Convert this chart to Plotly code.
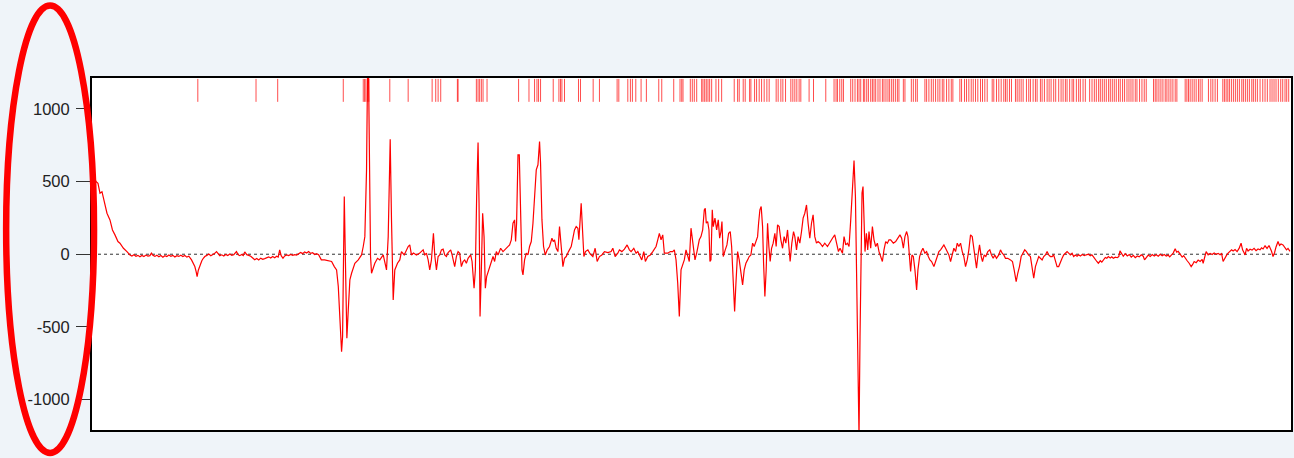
import plotly.graph_objects as go

# Recorded signal: (time, amplitude) samples
signal = [
    (2, 530), (4, 500), (6, 488), (8, 420), (10, 430), (12.5, 350), (15, 282), (18, 236),
    (20.5, 167), (23, 133), (26, 87), (28, 76), (31.5, 41), (35, 18),
    (38, -5), (40, -12), (42, -4), (44, -14), (46, -8), (48, -18), (50, -9), (52, -16), (54, -6),
    (56, -13), (58, -10), (59.5, 7), (61, -8), (63, -15), (65, -7), (67, -17), (69, -9),
    (71, -20), (73, -10), (75, -16), (77, -6), (79, -14), (81, -8), (83, -19), (85, -10),
    (87, -15), (89, -7), (91, -16), (93, -9), (95, -20), (97, -14),
    (99.7, -39), (101.5, -60), (103, -85), (104.3, -120), (105.3, -154), (106.5, -110),
    (108, -78), (110, -45), (111.5, -28), (113, -16),
    (115, -8), (117, 2), (119, -10), (121, -3), (123, 6), (124.7, 18), (126.5, -2), (128, -10),
    (130, -4), (132, -12), (134, -2), (136, -9), (138, 1), (140, -8), (142, -3), (144.7, 18),
    (146.5, -4), (148, -10), (150, -2), (151.5, -9), (153, 16), (155, -3), (157, -8), (159, -14),
    (161, -26), (163, -38), (165, -30), (167, -40), (169, -27), (171, -35), (173, -30),
    (175, -24), (177, -18), (179, -26), (181, -16), (183, -24), (185, -14), (186.5, -20),
    (188, 30), (189.5, -10), (191.3, -28), (193, -12), (195, -5), (197, -9), (199, -2),
    (201, -8), (203, -3), (205, -6), (207, 2), (209, 12), (211, 4), (213, 16), (215, 8),
    (217, 18), (219, 6), (221, 10), (223, -2), (225, 4), (227, -4), (229.7, -39),
    (233, -39), (236, -42), (240, -50),
    (242.7, -85), (245, -108), (246.7, -222), (248.3, -452), (250, -670), (251, -566),
    (252.7, 397), (254, -108), (255.3, -578), (256.7, -383), (258.3, -177), (260, -131),
    (263.3, -62), (266.7, -39), (270, -5), (271.7, 53), (273.3, 121), (275, 580), (276, 1250),
    (277, 1250), (277.7, 580), (279, -16), (280, -131), (281.7, -96), (283.3, -62), (286, -28),
    (288.3, -39), (291.7, -5), (293.3, -62), (295, -108), (296.7, 121), (298.7, 791), (300, 236),
    (301.7, -314), (303.3, -108), (306, -62), (308.3, -39), (310, 18), (312.7, -5), (315, 30),
    (316.7, 53), (318.3, 64), (320, -5), (322, 8), (325, -5), (328, 6), (330, 18), (331.7, 30),
    (333.3, -5), (335, 7), (336.7, -39), (338.3, -108), (340, -39), (342, 144), (343.3, -5),
    (345, -108), (346.7, -16), (348.3, -5), (350, 30), (351.7, 35), (353.3, -5), (355, -16),
    (356.7, 11), (359.3, 30), (360.7, -5), (363.3, -85), (365, -16), (366.7, 18), (368.3, 7),
    (370, -85), (371.7, -50), (373.3, -39), (375, -62), (376.7, -28), (379.3, -5), (380.7, -50),
    (382.7, -234), (384, -108), (385.3, 397), (386.7, 768), (387.7, 351), (388.7, -429),
    (390, -108), (391.3, 282), (392.7, 121), (394, -234), (395.3, -154), (397.3, -108),
    (400, -39), (401.7, -16), (403.3, -50), (405, 18), (406.7, -5), (409.3, 41), (411.7, 18),
    (415, 41), (418.3, 64), (420, 99), (421.7, 213), (423.3, 236), (424.3, 87), (425.3, 213),
    (426.7, 683), (428, 683), (429.3, 351), (430.7, -108), (431.7, -142), (433.3, -39), (435, 7),
    (436.7, -5), (438.3, 53), (440, 87), (441.7, 213), (443.3, 443), (445, 580), (446.7, 615),
    (448.3, 775), (449.3, 626), (450.7, 236), (452.3, 53), (454, -5), (456, 30), (458.3, 53),
    (460.7, 110), (462, 87), (463.3, 99), (465, 41), (466.7, 18), (468.3, 190), (470, 53),
    (471.7, -85), (473.3, -28), (475, -16), (477.3, 18), (480, 53), (481.7, 110), (483.3, 167),
    (485, 190), (486.7, 179), (487.7, 99), (489, 305), (490, 351), (491, 213), (492.7, -16),
    (494.3, 18), (496.7, 30), (499, 2), (501.7, -16), (504, 41), (506, -50), (508.3, -16),
    (510.7, -5), (513.3, 18), (516.7, 11), (520, 18), (521.7, 41), (524, -16), (526.7, 7),
    (528.3, 30), (530.7, 18), (533.3, 35), (536, 64), (538.3, 30), (540, 18), (542.7, 41),
    (545, 7), (546.7, 18), (548.7, -16), (550.7, -39), (552.7, 18), (554.3, -50), (556.7, -16),
    (559.3, -5), (561.7, 18), (565, 53), (566.7, 99), (568.3, 144), (570, 99), (571.7, 133),
    (573.3, 7), (576.7, 7), (579.3, 18), (581.7, 18), (583.3, 30), (585, -39), (586.7, -200),
    (588.3, -429), (590, -108), (591.7, -62), (593.3, -39), (595, 30), (596.7, -5), (598.3, -50),
    (600, 179), (601.7, 99), (604, -39), (606, 18), (608.3, 99), (610, 121), (611.7, 167),
    (613.3, 305), (614.3, 316), (615.3, 213), (616.7, 225), (618, 167), (619, -50), (620, -39),
    (621.3, 305), (622.3, 190), (624, 248), (625.7, 167), (627.3, 236), (628.7, 110), (630, 156),
    (631, 225), (632.3, -16), (634.3, 30), (636, 64), (637.7, 144), (639.3, 156), (640.7, 53),
    (642, -108), (643.7, -394), (645, -200), (646.7, 18), (648.3, -39), (650, -131),
    (651.7, -211), (653.3, -108), (655, -62), (656.7, -39), (658.3, -16), (660, -5), (661.7, 76),
    (663.3, 53), (665, 87), (666.7, 121), (667.7, 213), (669, 305), (670.3, 328), (671.7, 190),
    (672.7, -62), (674, -291), (675.3, -108), (676.7, 213), (678, 53), (679.3, -50), (680.7, 41),
    (682.3, 76), (684, 144), (685.3, 53), (686.7, 202), (688.3, 190), (690, 99), (691.7, 41),
    (693.3, 121), (695, 76), (696.7, 167), (698.3, -16), (699.3, -50), (701, 76), (702.7, 156),
    (704, 121), (705.7, 30), (707.3, 121), (709, 76), (710.7, 156), (712.3, 248), (714, 282),
    (715.7, 339), (717.3, 213), (719, 110), (720.7, 213), (722.3, 271), (724, 121), (725.7, 76),
    (727.3, 87), (729.3, 76), (731.7, 53), (734, 76), (736.7, 53), (739.3, 87), (741.7, 110),
    (744, 133), (746, 76), (747.7, 18), (749.3, 41), (751.7, 7), (753.3, 121), (755, 64),
    (756.7, 76), (758.3, 53), (760, 236), (761.7, 420), (763.3, 644), (764.7, 397), (766, -108),
    (767.3, -796), (768.3, -1250), (769.3, -566), (770.3, 7), (771.3, 420), (772.3, 465),
    (773.3, 282), (774.3, 18), (775.7, 144), (777, 30), (778.3, 156), (780, 41), (781.7, 190),
    (783.3, 99), (785, 53), (786.7, 76), (788.3, 18), (790, -16), (791.7, -50), (793.3, 30),
    (795, 87), (796.7, 76), (798.3, 99), (800, 99), (802.7, 76), (805, 87), (807.3, 110),
    (809.3, 133), (811, 110), (812.7, 41), (814.3, 121), (816, 156), (817.3, 121), (818.7, -16),
    (820, -119), (821.3, -5), (822.7, -16), (824.3, -108), (826, -245), (827.3, -108),
    (829, -16), (830.7, 18), (832.3, 41), (834.3, 7), (836, 18), (837.7, -16), (839.3, -39),
    (841, -50), (843.3, -85), (845, -50), (846.7, -16), (848.3, 18), (850, 30), (851.7, 53),
    (853.3, 64), (855, 41), (856.7, 18), (858.3, -5), (860, -50), (861.7, 7), (863.3, 41),
    (865, 18), (866.7, 76), (868.3, 53), (870, 76), (871.7, 18), (873.3, -16), (875, -85),
    (876.7, -39), (878.3, 30), (880, 133), (881.7, 121), (883.3, 30), (885, -39), (886, -96),
    (887.3, -16), (889, 64), (890.7, -16), (892, -50), (893.7, -5), (895.3, -16), (897.3, 18),
    (899.3, 30), (901, -5), (902.7, -28), (904.3, -5), (906, -28), (908.3, -5), (910, 30),
    (911.7, 7), (913.3, -5), (915, -28), (917.3, -28), (920, -39), (922, -50), (923.7, -108),
    (925.7, -188), (927.3, -131), (929, -85), (930.7, -16), (932.7, 7), (934.3, 30), (936, 18),
    (938, -5), (940, -16), (941.7, -108), (943.3, -165), (945, -85), (946.7, -39), (948.3, -16),
    (950, -28), (951.7, -39), (953.3, -16), (955, -5), (956.7, 18), (958.3, -5), (960, -16),
    (961.7, -16), (963.3, -5), (965, -39), (966.7, -85), (968.3, -85), (970, -50), (971.7, -28),
    (973.3, -5), (975, 7), (976.7, 18), (978.3, 7), (980, -5), (981.7, 7), (983.3, -16),
    (985, -6), (986.7, -14), (988.3, -4), (990, -12), (992, -2), (994, -10), (996, -4),
    (998, 0), (1000, -10), (1001.5, -4), (1003, -16), (1005, -39), (1006.5, -50), (1008, -62),
    (1010, -45), (1011.5, -55), (1013, -38), (1015, -22), (1016.5, -28), (1018, -16),
    (1020, -26), (1021.5, -18), (1023, -28), (1025, -20), (1027, -24), (1028.5, -16),
    (1029.7, 23), (1031.5, -2), (1033, -14), (1035, 4), (1037, -12), (1039, -2), (1041, -20),
    (1043, -8), (1045, -24), (1047, -12), (1049, -18), (1051, -4), (1053, -14), (1054.3, -39),
    (1056, -20), (1058, -6), (1060, -16), (1062, -2), (1064, -12), (1066, -4), (1068, -14),
    (1070, 0), (1072, -10), (1074, -2), (1076, -12), (1078, -6), (1079.5, -18), (1081, -8),
    (1083, 8), (1085, 37), (1086.5, 14), (1088, 20), (1090, -4), (1092, -20), (1093.5, -10),
    (1095, -28), (1097, -45), (1099, -62), (1101, -85), (1102.5, -70), (1104, -50),
    (1106, -58), (1108, -40), (1110, -50), (1112, -36), (1113, -62), (1114.5, -30),
    (1116, 18), (1118, -4), (1120, 6), (1122, -2), (1124, 8), (1126, 0), (1128, 6),
    (1130, -4), (1131.5, 4), (1133, -50), (1135, -20), (1136.5, -6), (1138, 8), (1140, 18),
    (1141.5, 30), (1143, 22), (1145, 32), (1147, 18), (1149, 40), (1151, 76), (1152.5, 30),
    (1154, 10), (1155, -5), (1156.5, 41), (1158, 22), (1160, 34), (1162, 28), (1164, 40),
    (1166, 24), (1168, 36), (1170, 30), (1171.5, 44), (1173, 36), (1175, 58), (1177, 40),
    (1179, 60), (1180, 46), (1181.5, 20), (1183, -16), (1184.5, 10), (1186, 50), (1188, 87),
    (1189.5, 60), (1191, 70), (1193, 64), (1195, 44), (1196.5, 30), (1198, 40), (1200, 20),
]
sig_t = [p[0] for p in signal]
sig_v = [p[1] for p in signal]

# Event times shown as a rug along the top
events = [
    106, 164.3, 186, 251.7, 271.7, 273, 274.3, 276, 277.3, 298.3, 316.7, 340.7, 344.3, 346.7,
    349.3, 366, 366.7, 385, 386.7, 388.3, 390, 391.7, 395.7,
    427.3, 437.7, 443.3, 445.7, 447.3, 449.3, 462, 467.7, 469.3, 470.7, 473.3, 487.3, 489.3,
    502, 508.3, 526, 527.7, 536.7, 539.3, 541.3, 544.7, 550, 555.3, 567.7, 570.7, 582.7, 589,
    590.7, 592, 599.3, 601.3, 603.3, 605.7, 610.7, 612, 613.7, 615.3, 617, 618.7, 620.7, 625,
    627.7, 630.7, 643.3, 646.7, 648.3, 652.3, 654.3, 658.7, 660, 663.7, 665.7, 668.3, 670.7,
    673.3, 676, 678.3, 685.3, 687.3, 690, 692, 694.7, 700, 702, 704, 706, 708.3, 710, 718.3,
    722.7, 735, 743.3, 745.3, 746.7, 749, 751, 752.7, 760, 762, 764.3, 766.7, 768.3, 770,
    772.7, 774, 776, 777.7, 780, 781.7, 783.3, 785, 787.3, 789.3, 791.7, 793.3, 795.3, 797.3,
    799, 801, 802.7, 804.7, 806.7, 808.3, 812.7, 814.3, 820.7, 822.7, 825, 826.7, 834.3, 836,
    838.3, 840.7, 842.7, 845, 847.3, 849.3, 851.7, 853.3, 856, 858.3, 860.7, 862.3, 869.3, 871,
    874, 876, 878.3, 880.7, 882.7, 885, 887.3, 890, 892, 894.3, 896.7, 901.7, 903.3, 906,
    908.3, 910.7, 913.3, 915, 916.7, 919, 921, 925, 926.7, 928.7, 930.7, 932.7, 936, 938.3,
    940, 942.7, 945, 946.7, 950, 951.7, 954, 956.7, 958.7, 960.7, 963.3, 965.3, 968.3, 970.7,
    972.7, 975, 976.7, 979.3, 981.7, 983.3, 986, 988.3, 990, 992.7, 995, 999.3, 1001.7, 1004,
    1006, 1008.3, 1010, 1012, 1014, 1016, 1018.3, 1020, 1022, 1024, 1026, 1028.3, 1030, 1032.3,
    1034.3, 1036.7, 1038.7, 1040.7, 1042.7, 1045, 1046.7, 1049.3, 1051.7, 1054, 1056, 1063.3,
    1065, 1066.7, 1068.7, 1070.7, 1072.7, 1075, 1076.7, 1078.7, 1080.7, 1082.7, 1085, 1086.7,
    1095, 1096.7, 1098.3, 1100, 1102, 1104, 1106, 1108.3, 1110, 1112, 1118.3, 1120.7, 1122.7,
    1125, 1127.3, 1132.7, 1134.3, 1136, 1137.7, 1139.3, 1141.3, 1143.3, 1145.3, 1147.3,
    1149.3, 1151.7, 1153.3, 1155.3, 1157.3, 1159.3, 1161.7, 1163.3, 1165.3, 1167.3, 1170,
    1172.7, 1175, 1177.3, 1180, 1182, 1184, 1186, 1188.3, 1190.7, 1192.7, 1195, 1196.7, 1198.7,
]

y_ticks = [-1000, -500, 0, 500, 1000]
y_range = [-1209, 1212]
x_range = [0, 1201]

RED = "#ff0000"
rug_level = 1127

fig = go.Figure()

# Rug of event times across the top (line-ns height is 1.4 x marker size)
fig.add_trace(go.Scatter(
    x=events, y=[rug_level] * len(events), mode="markers",
    marker=dict(symbol="line-ns", size=16.4, line=dict(width=1, color="rgba(255,0,0,0.7)")),
    hoverinfo="x", showlegend=False,
))

# Signal trace
fig.add_trace(go.Scatter(
    x=sig_t, y=sig_v, mode="lines",
    line=dict(color=RED, width=1.2),
    showlegend=False,
))

# Dotted zero reference
fig.add_shape(type="line", xref="paper", yref="y", x0=0, x1=1, y0=0, y1=0,
              line=dict(color="#333333", width=1, dash="dot"), layer="below")

# Highlight around the y-axis labels
fig.add_shape(type="circle", xref="paper", yref="paper",
              x0=-0.0716, x1=0.0017, y0=-0.0653, y1=1.206,
              line=dict(color=RED, width=6.5))

fig.update_layout(
    width=1294, height=458,
    margin=dict(l=92, r=1, t=78, b=28),
    paper_bgcolor="#eff4f9",
    plot_bgcolor="#ffffff",
    font=dict(family="Arial, Liberation Sans, sans-serif", size=16.5, color="#222222"),
    xaxis=dict(range=x_range, showticklabels=False, ticks="", showgrid=False, zeroline=False,
               showline=True, linecolor="#000000", linewidth=2, mirror=True),
    yaxis=dict(range=y_range, tickvals=y_ticks, ticktext=[str(v) for v in y_ticks],
               ticks="outside", ticklen=14, tickcolor="#333333", tickwidth=1,
               ticklabelstandoff=3,
               showgrid=False, zeroline=False,
               showline=True, linecolor="#000000", linewidth=2, mirror=True),
)

fig.write_html("out.html")
